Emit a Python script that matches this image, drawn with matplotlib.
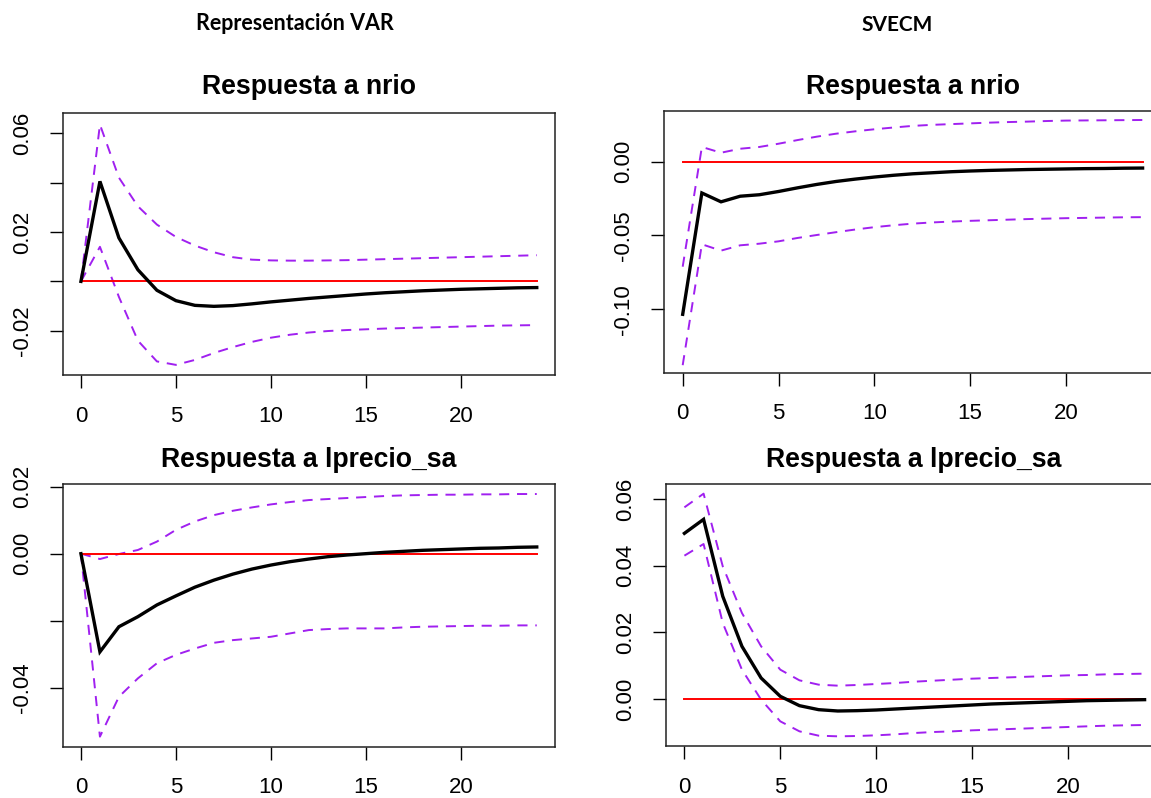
import numpy as np
import matplotlib
matplotlib.use("Agg")
import matplotlib.pyplot as plt

# ---------------- data ----------------
horizon = list(range(25))

# Representación VAR — respuesta a nrio
var_nrio_irf = [0, 0.0405, 0.0176, 0.0047, -0.0036, -0.0078, -0.0097, -0.0101, -0.0098, -0.0091,
                -0.0083, -0.0076, -0.0069, -0.0063, -0.0057, -0.0051, -0.0046, -0.0042, -0.0038,
                -0.0035, -0.0032, -0.0030, -0.0028, -0.0026, -0.0025]
var_nrio_upper = [0, 0.0635, 0.0420, 0.0304, 0.0230, 0.0180, 0.0145, 0.0118, 0.0098, 0.0088,
                  0.0085, 0.0084, 0.0084, 0.0085, 0.0086, 0.0088, 0.0090, 0.0092, 0.0094,
                  0.0096, 0.0098, 0.0100, 0.0102, 0.0104, 0.0106]
var_nrio_lower = [0, 0.0140, -0.0063, -0.0240, -0.0324, -0.0338, -0.0318, -0.0290, -0.0266, -0.0245,
                  -0.0228, -0.0216, -0.0207, -0.0201, -0.0197, -0.0194, -0.0191, -0.0189, -0.0187,
                  -0.0185, -0.0183, -0.0181, -0.0179, -0.0178, -0.0177]

# SVECM — respuesta a nrio
svecm_nrio_irf = [-0.1035, -0.0212, -0.0272, -0.0234, -0.0224, -0.0202, -0.0177, -0.0154, -0.0134,
                  -0.0118, -0.0104, -0.0092, -0.0082, -0.0075, -0.0068, -0.0063, -0.0059, -0.0056,
                  -0.0053, -0.0051, -0.0049, -0.0047, -0.0046, -0.0044, -0.0043]
svecm_nrio_upper = [-0.0712, 0.0100, 0.0061, 0.0088, 0.0100, 0.0122, 0.0147, 0.0170, 0.0190, 0.0206,
                    0.0220, 0.0232, 0.0243, 0.0250, 0.0255, 0.0260, 0.0265, 0.0269, 0.0272,
                    0.0276, 0.0279, 0.0280, 0.0281, 0.0282, 0.0283]
svecm_nrio_lower = [-0.1380, -0.0560, -0.0603, -0.0567, -0.0556, -0.0540, -0.0517, -0.0497, -0.0478,
                    -0.0460, -0.0444, -0.0431, -0.0420, -0.0412, -0.0406, -0.0401, -0.0397, -0.0393,
                    -0.0389, -0.0386, -0.0383, -0.0381, -0.0379, -0.0377, -0.0376]

# Representación VAR — respuesta a lprecio_sa
var_lp_irf = [0, -0.0293, -0.0218, -0.0188, -0.0153, -0.0126, -0.0100, -0.0079, -0.0061, -0.0046,
              -0.0034, -0.0024, -0.0016, -0.0009, -0.0004, 0.0000, 0.0004, 0.0007, 0.0010,
              0.0012, 0.0014, 0.0016, 0.0017, 0.0019, 0.0020]
var_lp_upper = [0, -0.0016, -0.0001, 0.0011, 0.0036, 0.0071, 0.0096, 0.0115, 0.0128, 0.0138,
                0.0147, 0.0154, 0.0160, 0.0163, 0.0166, 0.0169, 0.0172, 0.0174, 0.0175,
                0.0176, 0.0176, 0.0177, 0.0177, 0.0178, 0.0178]
var_lp_lower = [0, -0.0546, -0.0427, -0.0372, -0.0327, -0.0302, -0.0283, -0.0266, -0.0258, -0.0253,
                -0.0248, -0.0238, -0.0228, -0.0225, -0.0223, -0.0223, -0.0223, -0.0220, -0.0218,
                -0.0217, -0.0216, -0.0215, -0.0215, -0.0214, -0.0214]

# SVECM — respuesta a lprecio_sa
svecm_lp_irf = [0.0497, 0.0539, 0.0308, 0.0158, 0.0063, 0.0008, -0.0020, -0.0032, -0.0036, -0.0035,
                -0.0033, -0.0030, -0.0027, -0.0024, -0.0021, -0.0018, -0.0015, -0.0013, -0.0011,
                -0.0009, -0.0007, -0.0005, -0.0004, -0.0003, -0.0002]
svecm_lp_upper = [0.0575, 0.0616, 0.0398, 0.0258, 0.0158, 0.0088, 0.0056, 0.0043, 0.0040, 0.0042,
                  0.0045, 0.0048, 0.0052, 0.0055, 0.0058, 0.0061, 0.0063, 0.0065, 0.0067,
                  0.0069, 0.0071, 0.0072, 0.0074, 0.0075, 0.0076]
svecm_lp_lower = [0.0430, 0.0465, 0.0228, 0.0088, -0.0002, -0.0067, -0.0097, -0.0110, -0.0112, -0.0111,
                  -0.0109, -0.0106, -0.0102, -0.0099, -0.0097, -0.0094, -0.0092, -0.0090, -0.0088,
                  -0.0086, -0.0084, -0.0082, -0.0080, -0.0079, -0.0078]

column_headers = ["Representación VAR", "SVECM"]
panel_titles = ["Respuesta a nrio", "Respuesta a nrio", "Respuesta a lprecio_sa", "Respuesta a lprecio_sa"]
x_ticks = [0, 5, 10, 15, 20]
y_ticks = [[-0.02, 0.0, 0.02, 0.04, 0.06], [-0.10, -0.05, 0.00], [-0.04, -0.02, 0.00, 0.02], [0.00, 0.02, 0.04, 0.06]]
y_tick_labels = [["-0.02", "", "0.02", "", "0.06"], ["-0.10", "-0.05", "0.00"],
                 ["-0.04", "", "0.00", "0.02"], ["0.00", "0.02", "0.04", "0.06"]]

# ---------------- layout ----------------
W, H = 1151, 798
fig = plt.figure(figsize=(W / 100, H / 100), dpi=100)
fig.patch.set_facecolor("white")

# pixel boxes (left, top, right, bottom)
boxes = [(62.7, 112.7, 555, 375), (664.3, 110.7, 1161, 372.7),
         (62.7, 484.3, 555, 746.7), (666, 484, 1163, 746)]
ylims = [(-0.0379, 0.0683), (-0.1431, 0.0346), (-0.0576, 0.0207), (-0.0141, 0.0645)]
series = [(var_nrio_irf, var_nrio_upper, var_nrio_lower),
          (svecm_nrio_irf, svecm_nrio_upper, svecm_nrio_lower),
          (var_lp_irf, var_lp_upper, var_lp_lower),
          (svecm_lp_irf, svecm_lp_upper, svecm_lp_lower)]
title_baselines = [94, 94, 467, 467]

FONT = "Liberation Sans"
purple = "#A020F0"

for i, (box, yl, (irf, up, lo)) in enumerate(zip(boxes, ylims, series)):
    l, t, r, b = box
    ax = fig.add_axes([l / W, 1 - b / H, (r - l) / W, (b - t) / H])
    ax.plot(horizon, up, color=purple, lw=1.4, dashes=(5.2, 4.0))
    ax.plot(horizon, lo, color=purple, lw=1.4, dashes=(5.2, 4.0))
    ax.plot([horizon[0], horizon[-1]], [0, 0], color="#FF0000", lw=1.4)
    ax.plot(horizon, irf, color="black", lw=2.4, solid_joinstyle="miter")
    ax.set_xlim(-0.96, 24.96)
    ax.set_ylim(*yl)
    ax.set_xticks(x_ticks)
    ax.set_xticklabels([str(v) for v in x_ticks], fontfamily=FONT, fontsize=16)
    ax.set_yticks(y_ticks[i])
    ax.set_yticklabels(y_tick_labels[i], fontfamily=FONT, fontsize=16,
                       rotation=90, va="center")
    ax.tick_params(axis="both", direction="out", length=9.5, width=1.0, color="black")
    ax.tick_params(axis="x", pad=12.5)
    ax.tick_params(axis="y", pad=12)
    for s in ax.spines.values():
        s.set_linewidth(1.1)
        s.set_color("#222222")
    # panel title
    fig.text(((l + r) / 2) / W if i % 2 == 0 else ((l + 1151 + 10) / 2) / W,
             1 - title_baselines[i] / H, panel_titles[i],
             ha="center", va="baseline", fontfamily=FONT, fontweight="bold", fontsize=19.2)

# column headers
fig.text(295 / W, 1 - 30.5 / H, column_headers[0], ha="center", va="baseline",
         fontfamily="Lato", fontweight="bold", fontsize=15.5)
fig.text(897 / W, 1 - 31 / H, column_headers[1], ha="center", va="baseline",
         fontfamily="Lato", fontweight="bold", fontsize=15)

fig.savefig("out.png", dpi=100, facecolor="white")
